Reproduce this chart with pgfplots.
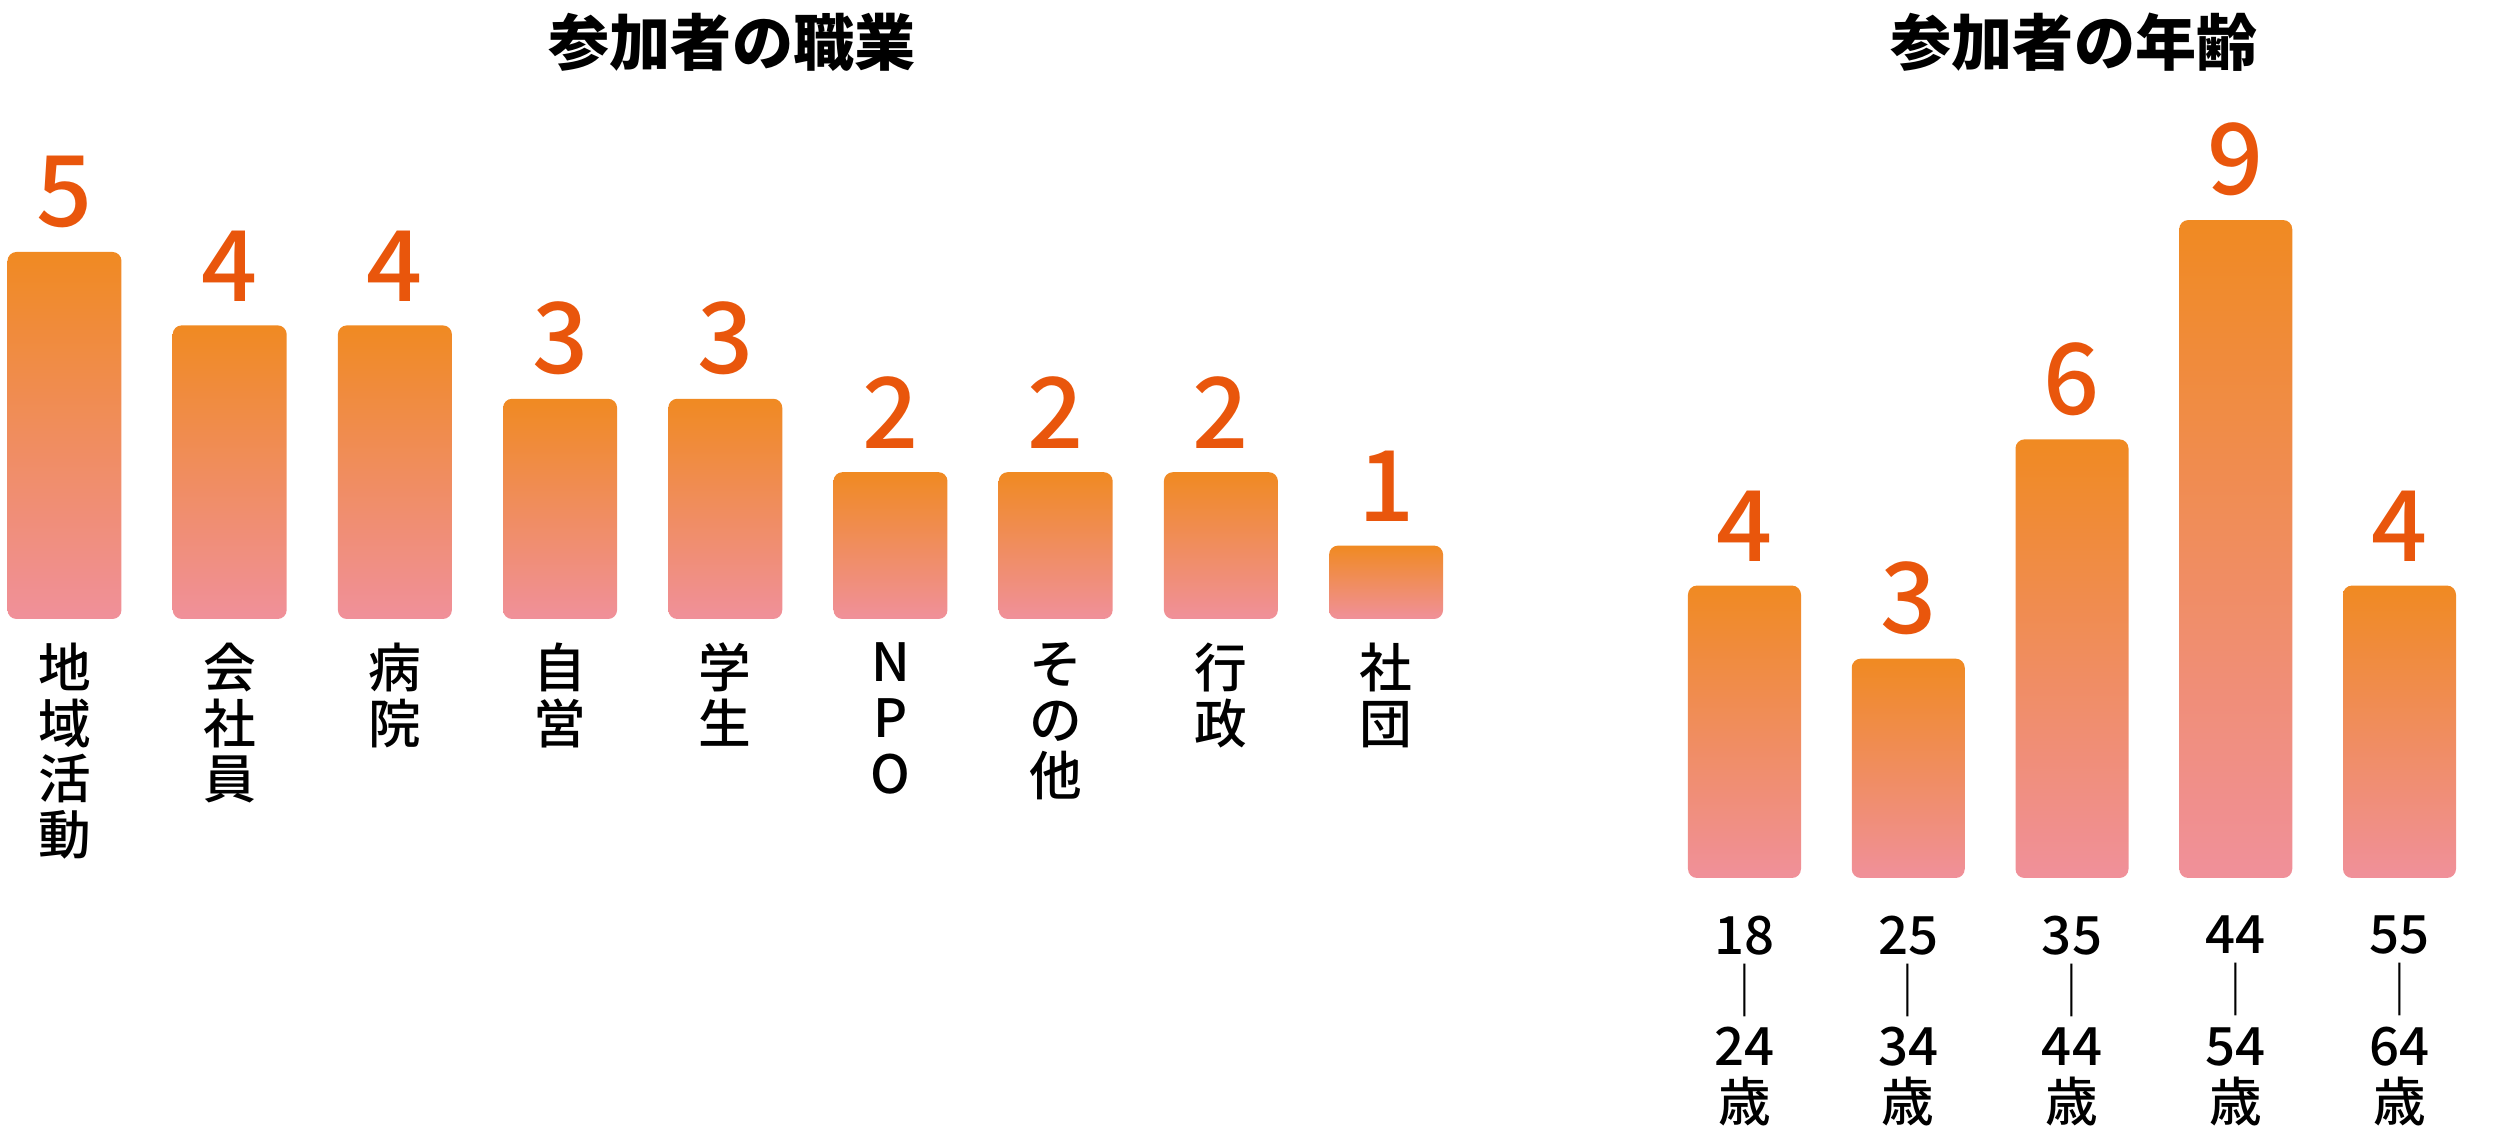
\documentclass[border=0pt]{standalone}
\usepackage{fontspec}
\setmainfont{Noto Sans CJK JP}
\newfontfamily\medfont{Noto Sans CJK JP}[UprightFont=* Medium]
\usepackage{pgfplots}
\pgfplotsset{compat=1.18}
\definecolor{valc}{RGB}{233,86,12}
\definecolor{topc}{RGB}{240,138,34}
\definecolor{botc}{RGB}{240,144,154}
\pgfplotsset{
  barbase/.style={
    clip=false,
    axis line style={draw=none},
    major tick length=0pt,
    ytick=\empty,
    ymin=0,
    /pgf/number format/assume math mode=true,
    xticklabel style={align=center, anchor=north, inner sep=0pt, text=black,
      font=\medfont\fontsize{15}{15.9}\selectfont},
  },
  gbar/.style={ybar, bar shift=0pt, draw=none, top color=topc, bottom color=botc, rounded corners=0.09cm},
  valnodes/.style={draw=none, mark=none, nodes near coords,
    every node near coord/.append style={anchor=south, inner sep=0pt, yshift=0.23cm,
      text=valc, font=\medfont\fontsize{28}{30}\selectfont}},
}
\begin{document}
\begin{tikzpicture}
\useasboundingbox (0,0) rectangle (25,11.41);
\node[font=\bfseries\fontsize{17.4}{20}\selectfont] at (7.32,10.99) {参加者の職業};
\node[font=\bfseries\fontsize{17.4}{20}\selectfont] at (20.74,10.99) {参加者の年齢};
\begin{axis}[barbase,
  at={(-0.181cm,5.22cm)}, anchor=south west,
  x=1.652cm, y=0.734cm,
  xmin=-0.5, xmax=8.5, ymax=5.5,
  xtick={0,1,2,3,4,5,6,7,8},
  xticklabels={{地\\域\\活\\動},{会\\社\\員},{病\\院},{自\\営},{学\\生},{N\\P\\O},{そ\\の\\他},{行\\政},{社\\団}},
  xticklabel style={yshift=-0.23cm},
  every axis plot/.append style={bar width=1.14cm},
]
\addplot[gbar] coordinates {(0,5)};
\addplot[gbar] coordinates {(1,4)};
\addplot[gbar] coordinates {(2,4)};
\addplot[gbar] coordinates {(3,3)};
\addplot[gbar] coordinates {(4,3)};
\addplot[gbar] coordinates {(5,2)};
\addplot[gbar] coordinates {(6,2)};
\addplot[gbar] coordinates {(7,2)};
\addplot[gbar] coordinates {(8,1)};
\addplot[valnodes]
  coordinates {(0,5) (1,4) (2,4) (3,3) (4,3) (5,2) (6,2) (7,2) (8,1)};
\end{axis}
\begin{axis}[barbase,
  at={(16.626cm,2.63cm)}, anchor=south west,
  x=1.6375cm, y=0.731cm,
  xmin=-0.5, xmax=4.5, ymax=9.5,
  xtick={0,1,2,3,4},
  xticklabels={{18\\│\\24\\歳},{25\\│\\34\\歳},{35\\│\\44\\歳},{44\\│\\54\\歳},{55\\│\\64\\歳}},
  xticklabel style={yshift=-0.37cm},
  every axis plot/.append style={bar width=1.13cm},
]
\addplot[gbar] coordinates {(0,4)};
\addplot[gbar] coordinates {(1,3)};
\addplot[gbar] coordinates {(2,6)};
\addplot[gbar] coordinates {(3,9)};
\addplot[gbar] coordinates {(4,4)};
\addplot[valnodes]
  coordinates {(0,4) (1,3) (2,6) (3,9) (4,4)};
\end{axis}
\end{tikzpicture}
\end{document}
